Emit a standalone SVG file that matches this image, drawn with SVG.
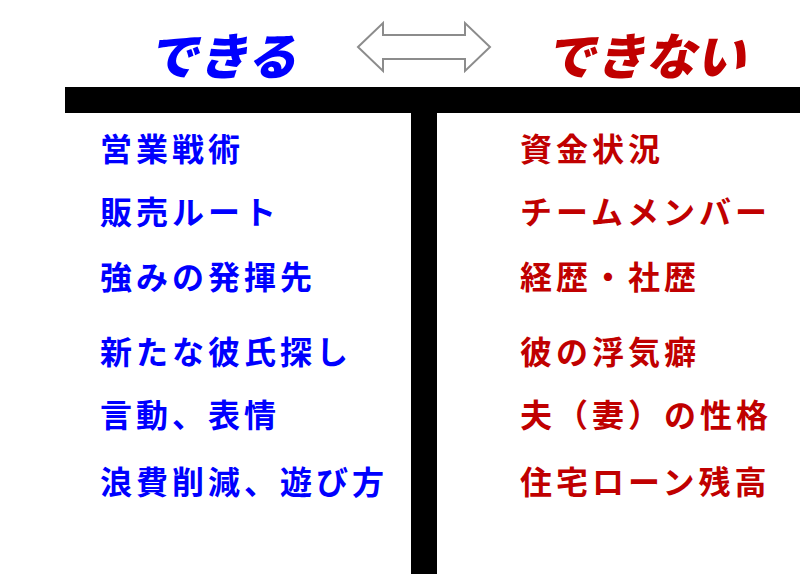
<svg xmlns="http://www.w3.org/2000/svg" width="800" height="574" viewBox="0 0 800 574">
<style>
.h{font-family:"Noto Sans CJK JP",sans-serif;font-weight:900;font-size:50px;font-style:italic}
.t{font-family:"Noto Sans CJK JP",sans-serif;font-weight:700;font-size:32px;letter-spacing:4px}
.l{fill:#0000ff}.r{fill:#c00000}
</style>
<rect width="800" height="574" fill="#fff"/>
<g id="headers">
<text class="h l" x="222" y="75" text-anchor="middle">できる</text>
<text class="h r" x="645" y="75" text-anchor="middle">できない</text>
</g>
<g id="arrow"><path d="M358 47 L383 23 L383 35 L465 35 L465 23 L490 47 L465 71 L465 59 L383 59 L383 71 Z" fill="#fff" stroke="#8c8c8c" stroke-width="2"/></g>
<g id="tchart">
<rect x="65" y="87" width="735" height="26" fill="#000"/>
<rect x="411" y="113" width="26" height="461" fill="#000"/>
</g>
<g id="left">
<text class="t l" x="100" y="161">営業戦術</text>
<text class="t l" x="100" y="224">販売ルート</text>
<text class="t l" x="100" y="289">強みの発揮先</text>
<text class="t l" x="100" y="364">新たな彼氏探し</text>
<text class="t l" x="100" y="427">言動、表情</text>
<text class="t l" x="100" y="494">浪費削減、遊び方</text>
</g>
<g id="right">
<text class="t r" x="520" y="161">資金状況</text>
<text class="t r" x="520" y="224">チームメンバー</text>
<text class="t r" x="520" y="289">経歴・社歴</text>
<text class="t r" x="520" y="364">彼の浮気癖</text>
<text class="t r" x="520" y="427">夫（妻）の性格</text>
<text class="t r" x="520" y="494">住宅ローン残高</text>
</g>
</svg>
